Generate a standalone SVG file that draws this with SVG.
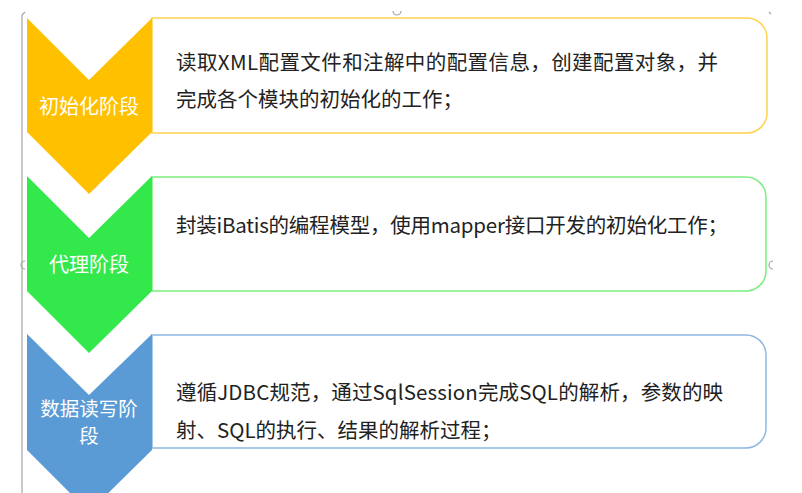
<svg xmlns="http://www.w3.org/2000/svg" width="802" height="493" viewBox="0 0 802 493">
<style>
.lbl{font-family:"Noto Sans CJK SC","Liberation Sans",sans-serif;font-size:20px;fill:#ffffff;text-anchor:middle}
.lbl2{font-family:"Noto Sans CJK SC","Liberation Sans",sans-serif;font-size:19.5px;fill:#ffffff;text-anchor:middle}
.txt{font-family:"Noto Sans CJK SC","Liberation Sans",sans-serif;font-size:20.5px;fill:#222222}
.box{fill:#ffffff;stroke-width:1.5}
.frame{fill:none;stroke:#a6a6a6;stroke-width:1.2}
</style>
<rect width="802" height="493" fill="#ffffff"/>
<g id="frame">
<line class="frame" x1="22" y1="15" x2="22" y2="493"/>
<path class="frame" d="M22 15 L25 12"/>
<path class="frame" d="M393 11 A4 4 0 0 0 401 11"/>
<path class="frame" d="M25 261 A4 4 0 0 0 25 269"/>
<path class="frame" d="M773 261 A4 4 0 0 0 773 269"/>
<path class="frame" d="M769 12 L771 14"/>
</g>
<g id="connectors"></g>
<g id="stage1">
<path class="box" stroke="#ffd24d" d="M152 18 H747 A20 20 0 0 1 767 38 V113 A20 20 0 0 1 747 133 H152 Z"/>
<path fill="#ffc000" d="M27 18 L89 80 L152 18 V132 L89 194 L27 132 Z"/>
<text class="lbl" x="89" y="113.5">初始化阶段</text>
<text class="txt" x="176" y="69.5" textLength="542" lengthAdjust="spacing">读取XML配置文件和注解中的配置信息，创建配置对象，并</text>
<text class="txt" x="176" y="107">完成各个模块的初始化的工作；</text>
</g>
<g id="stage2">
<path class="box" stroke="#7bee7e" d="M152 177 H746 A20 20 0 0 1 766 197 V271 A20 20 0 0 1 746 291 H152 Z"/>
<path fill="#33e84b" d="M27 176 L89 238 L152 176 V291 L89 353 L27 291 Z"/>
<text class="lbl" x="89" y="271.5">代理阶段</text>
<text class="txt" x="176" y="232.5" textLength="552" lengthAdjust="spacing">封装iBatis的编程模型，使用mapper接口开发的初始化工作；</text>
</g>
<g id="stage3">
<path class="box" stroke="#8fb8e3" d="M152 335 H746 A20 20 0 0 1 766 355 V428 A20 20 0 0 1 746 448 H152 Z"/>
<path fill="#5b9bd5" d="M27 334 L89 395 L152 334 V450 L89 512 L27 450 Z"/>
<text class="lbl2" x="89" y="416">数据读写阶</text>
<text class="lbl2" x="89" y="443">段</text>
<text class="txt" x="176" y="399.5" textLength="547" lengthAdjust="spacing">遵循JDBC规范，通过SqlSession完成SQL的解析，参数的映</text>
<text class="txt" x="176" y="437.5">射、SQL的执行、结果的解析过程；</text>
</g>
</svg>
